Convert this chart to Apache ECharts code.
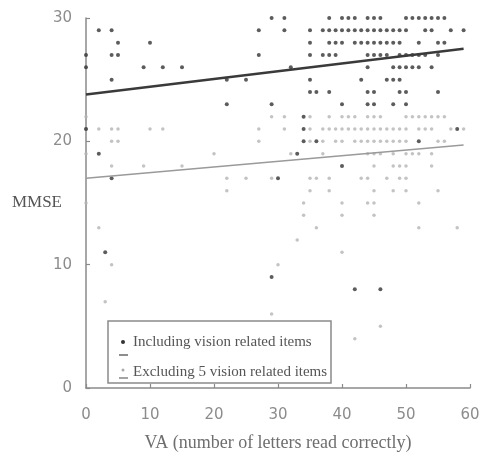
<!DOCTYPE html>
<html>
<head>
<meta charset="utf-8">
<script src="https://cdn.jsdelivr.net/npm/echarts@6/dist/echarts.min.js"></script>
<style>html,body{margin:0;padding:0;background:#fff}#c{width:481px;height:461px}</style>
</head>
<body>
<div id="c"></div>
<script>
// Rows: [MMSE score, [VA values of points at that score]]
const includingRows = [
  [30, [29,31,38,40,41,42,44,45,46,50,51,52,53,54,55,56]],
  [29, [2,4,27,31,35,37,38,39,40,41,42,43,44,45,46,47,48,49,50,53,54,57,59]],
  [28, [5,10,35,38,39,40,42,43,44,45,46,47,48,49,52,55,56]],
  [27, [0,4,5,27,35,37,38,39,44,45,46,47,49,50,51,52,53,55]],
  [26, [0,9,12,15,32,44,48,49,50,51,52,54]],
  [25, [4,22,25,35,43,47,48,49]],
  [24, [35,36,38,44,45,49,50,55]],
  [23, [22,29,40,44,45,48,50]],
  [22, [34]],
  [21, [0,34,58]],
  [20, [34,36,52]],
  [19, [2,33]],
  [18, [40]],
  [17, [4,30]],
  [11, [3]],
  [9,  [29]],
  [8,  [42,46]]
];
const excludingRows = [
  [22, [0,29,31,35,38,40,41,42,44,45,46,50,51,52,53,54,55,56]],
  [21, [0,2,4,5,10,12,27,31,35,37,38,39,40,41,42,43,44,45,46,47,48,49,50,52,53,54,57,59]],
  [20, [4,5,27,35,37,39,40,42,43,44,45,46,47,48,49,50,55,56]],
  [19, [0,20,32,37,44,45,46,48,50,51,52,54]],
  [18, [4,9,15,45,48,49,50,54]],
  [17, [22,25,29,35,36,38,43,44,47,49,50]],
  [16, [22,35,38,45,48,50,55]],
  [15, [0,34,40,44,45,52]],
  [14, [34,40,45]],
  [13, [2,36,52,58]],
  [12, [33]],
  [11, [40]],
  [10, [4,30]],
  [7,  [3]],
  [6,  [29]],
  [5,  [46]],
  [4,  [42]]
];
// Regression line end points [VA, MMSE]
const includingFit = [[0, 23.8], [59, 27.5]];
const excludingFit = [[0, 17.0], [59, 19.7]];
const xTicks = [0, 10, 20, 30, 40, 50, 60];
const yTicks = [0, 10, 20, 30];
const seriesNames = ['Including vision related items', 'Excluding 5 vision related items'];

function flatten(rows) {
  const out = [];
  rows.forEach(r => r[1].forEach(x => out.push([x, r[0]])));
  return out;
}

const chart = echarts.init(document.getElementById('c'), null, {renderer: 'canvas'});
const axisColor = '#8a8a8a';
const labelColor = '#8c8c8c';
const serif = '"Liberation Serif", "DejaVu Serif", serif';
const sans = '"DejaVu Sans", sans-serif';

const legX = 108, legY = 321;
chart.setOption({
  animation: false,
  backgroundColor: '#fff',
  grid: {left: 86, right: 11, top: 18, bottom: 73, containLabel: false, outerBoundsMode: 'none'},
  xAxis: {
    type: 'value', min: 0, max: 60, interval: 10,
    name: 'VA (number of letters read correctly)',
    nameLocation: 'middle', nameGap: 46, nameMoveOverlap: false,
    nameTextStyle: {fontFamily: serif, fontSize: 18, color: '#6e6e6e'},
    axisLine: {show: true, lineStyle: {color: axisColor, width: 1.5}},
    axisTick: {show: true, inside: true, length: 4, lineStyle: {color: axisColor, width: 1.2}},
    axisLabel: {margin: 20, fontFamily: sans, fontSize: 15, color: labelColor,
      formatter: v => xTicks.indexOf(v) >= 0 ? String(v) : ''},
    splitLine: {show: false}
  },
  yAxis: {
    type: 'value', min: 0, max: 30, interval: 10,
    name: 'MMSE', nameLocation: 'middle', nameRotate: 0, nameGap: 24, nameMoveOverlap: false,
    nameTextStyle: {fontFamily: serif, fontSize: 17, color: '#555', align: 'right'},
    axisLine: {show: true, lineStyle: {color: axisColor, width: 1.5}},
    axisTick: {show: true, inside: true, length: 4, lineStyle: {color: axisColor, width: 1.2}},
    axisLabel: {margin: 14, fontFamily: sans, fontSize: 15, color: labelColor,
      formatter: v => yTicks.indexOf(v) >= 0 ? String(v) : ''},
    splitLine: {show: false}
  },
  series: [
    {
      name: seriesNames[1], type: 'scatter', data: flatten(excludingRows),
      symbol: 'circle', symbolSize: 3.5, itemStyle: {color: '#b4b4b4'}, z: 2
    },
    {
      name: seriesNames[0], type: 'scatter', data: flatten(includingRows),
      symbol: 'circle', symbolSize: 4, itemStyle: {color: '#333'}, z: 3
    },
    {
      type: 'line', data: excludingFit, symbol: 'none', z: 4,
      lineStyle: {color: '#9a9a9a', width: 1.5}
    },
    {
      type: 'line', data: includingFit, symbol: 'none', z: 5,
      lineStyle: {color: '#3a3a3a', width: 2.5}
    }
  ],
  graphic: [
    {type: 'rect', shape: {x: legX, y: legY, width: 223, height: 62},
     style: {fill: '#fff', stroke: '#8a8a8a', lineWidth: 1.5}, z: 10},
    {type: 'circle', shape: {cx: legX + 15, cy: legY + 21, r: 2}, style: {fill: '#333'}, z: 11},
    {type: 'text', x: legX + 25, y: legY + 21,
     style: {text: seriesNames[0], font: '15px ' + serif, fill: '#555', verticalAlign: 'middle'}, z: 11},
    {type: 'line', shape: {x1: legX + 11, y1: legY + 34, x2: legX + 20, y2: legY + 34},
     style: {stroke: '#444', lineWidth: 1.2}, z: 11},
    {type: 'circle', shape: {cx: legX + 15, cy: legY + 49, r: 1.5}, style: {fill: '#aaa'}, z: 11},
    {type: 'text', x: legX + 25, y: legY + 51,
     style: {text: seriesNames[1], font: '15px ' + serif, fill: '#555', verticalAlign: 'middle'}, z: 11},
    {type: 'line', shape: {x1: legX + 11, y1: legY + 57, x2: legX + 20, y2: legY + 57},
     style: {stroke: '#666', lineWidth: 1.2}, z: 11}
  ]
});
</script>
</body>
</html>
